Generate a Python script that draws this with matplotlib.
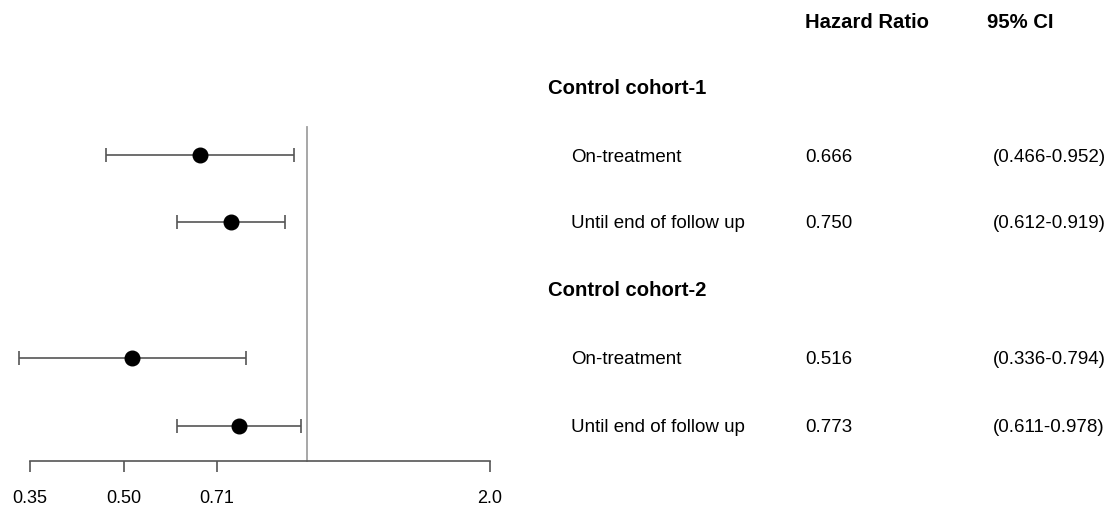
import matplotlib
matplotlib.use("Agg")
import matplotlib.pyplot as plt
import numpy as np

# data
groups = ["Control cohort-1", "Control cohort-2"]
subgroups = ["On-treatment", "Until end of follow up"]
hr = [0.666, 0.750, 0.516, 0.773]
ci_low = [0.466, 0.612, 0.336, 0.611]
ci_high = [0.952, 0.919, 0.794, 0.978]
xticks = [0.35, 0.50, 0.71, 2.0]
xtick_labels = ["0.35", "0.50", "0.71", "2.0"]

plt.rcParams["font.family"] = ["Liberation Sans", "DejaVu Sans"]

W, H = 1109, 510
fig = plt.figure(figsize=(W / 100, H / 100), dpi=100)

# forest panel: x in log scale, y in pixel rows (top = 0)
px_lo, px_hi = 30, 490  # pixel positions of 0.35 and 2.0
k = (px_hi - px_lo) / np.log(xticks[-1] / xticks[0])
ax_right = 540
ax = fig.add_axes([0, 0, ax_right / W, 1])
ax.set_xscale("log")
ax.set_xlim(xticks[0] * np.exp(-px_lo / k), xticks[-1] * np.exp((ax_right - px_hi) / k))
ax.set_ylim(H, 0)

row_y = [156, 223, 359, 427]
axis_y = 462

for y, m, lo, hi in zip(row_y, hr, ci_low, ci_high):
    ax.errorbar(m, y, xerr=[[m - lo], [hi - m]], fmt="o", color="black",
                ecolor="#555555", elinewidth=1.2, capsize=5, capthick=1.2,
                markersize=10.5, zorder=3)

# reference line at HR = 1
ax.plot([1.0, 1.0], [128, axis_y], color="#a0a0a0", lw=1.3)

for s in ["top", "right", "left"]:
    ax.spines[s].set_visible(False)
ax.spines["bottom"].set_position(("data", axis_y))
ax.spines["bottom"].set_bounds(xticks[0], xticks[-1])
ax.spines["bottom"].set_color("#555555")
ax.spines["bottom"].set_linewidth(1.2)
ax.set_yticks([])
ax.set_xticks(xticks)
ax.set_xticklabels(xtick_labels)
ax.minorticks_off()
ax.tick_params(axis="x", length=8, width=1.2, color="#555555", labelsize=13, pad=12)

# table on the right
def t(x, y, s, **kw):
    fig.text(x / W, 1 - y / H, s, va="center", ha="left", **kw)

t(805, 22, "Hazard Ratio", fontsize=14.6, fontweight="bold")
t(987, 22, "95% CI", fontsize=14.6, fontweight="bold")

group_y = [89, 291]
for g, gy in enumerate(group_y):
    t(548, gy, groups[g], fontsize=14.6, fontweight="bold")
    for j in range(2):
        i = 2 * g + j
        y = row_y[i] + 1
        t(571, y, subgroups[j], fontsize=13.5)
        t(805, y, f"{hr[i]:.3f}", fontsize=13.5)
        t(993, y, f"({ci_low[i]:.3f}-{ci_high[i]:.3f})", fontsize=13.5)

fig.savefig("out.png", dpi=100)
